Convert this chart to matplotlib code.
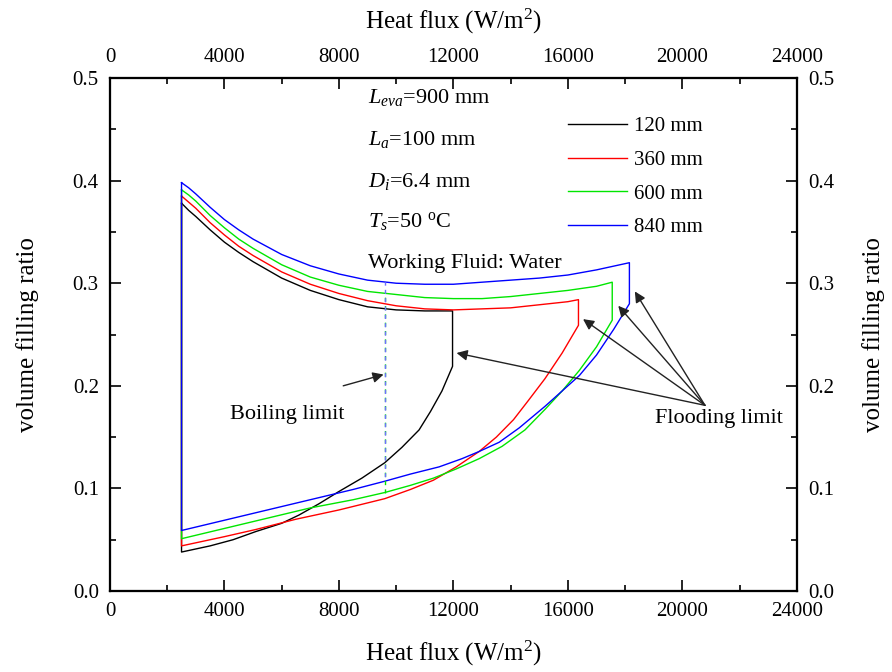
import numpy as np
import matplotlib
matplotlib.use("Agg")
import matplotlib.pyplot as plt
from matplotlib.ticker import MultipleLocator, FormatStrFormatter

plt.rcParams['font.family'] = ['Liberation Serif', 'DejaVu Serif']
plt.rcParams['mathtext.fontset'] = 'custom'
plt.rcParams['mathtext.rm'] = 'Liberation Serif'
plt.rcParams['mathtext.it'] = 'Liberation Serif:italic'

# upper branch of each loop (heat flux, filling ratio)
black_up_x = [2500, 2750, 3000, 3500, 4000, 4500, 5000, 6000, 7000, 8000, 9000, 10000,
              11000, 11970]
black_up_y = [0.378, 0.371, 0.365, 0.352, 0.340, 0.330, 0.321, 0.305, 0.293, 0.284, 0.277,
              0.274, 0.273, 0.273]
red_up_x = [2500, 2750, 3000, 3500, 4000, 4500, 5000, 6000, 7000, 8000, 9000, 10000,
            11000, 12000, 13000, 14000, 15000, 16000, 16370]
red_up_y = [0.385, 0.379, 0.373, 0.359, 0.347, 0.336, 0.327, 0.311, 0.299, 0.290, 0.283,
            0.278, 0.275, 0.274, 0.275, 0.276, 0.279, 0.282, 0.284]
green_up_x = [2500, 2750, 3000, 3500, 4000, 4500, 5000, 6000, 7000, 8000, 9000, 10000,
              11000, 12000, 13000, 14000, 15000, 16000, 17000, 17550]
green_up_y = [0.391, 0.386, 0.380, 0.366, 0.354, 0.343, 0.334, 0.318, 0.306, 0.298, 0.292,
              0.289, 0.286, 0.285, 0.285, 0.287, 0.290, 0.293, 0.297, 0.301]
blue_up_x = [2500, 2750, 3000, 3500, 4000, 4500, 5000, 6000, 7000, 8000, 9000, 10000,
             11000, 12000, 13000, 14000, 15000, 16000, 17000, 18150]
blue_up_y = [0.398, 0.393, 0.387, 0.374, 0.362, 0.352, 0.343, 0.328, 0.317, 0.309, 0.303,
             0.300, 0.299, 0.299, 0.301, 0.303, 0.305, 0.308, 0.313, 0.320]

# lower branch of each loop
black_low_x = [2500, 3500, 4300, 5100, 6000, 6600, 7300, 8000, 8800, 9600, 10200,
               10800, 11200, 11600, 11970]
black_low_y = [0.038, 0.044, 0.050, 0.058, 0.066, 0.074, 0.085, 0.097, 0.110, 0.125, 0.140,
               0.157, 0.175, 0.195, 0.219]
red_low_x = [2500, 4000, 5100, 6500, 8000, 9600, 10500, 11300, 12100, 12900, 13500,
             14100, 14600, 15200, 15800, 16370]
red_low_y = [0.044, 0.053, 0.060, 0.070, 0.079, 0.090, 0.099, 0.108, 0.121, 0.136, 0.150,
             0.167, 0.185, 0.207, 0.232, 0.259]
green_low_x = [2500, 4000, 5500, 7000, 8500, 9600, 10500, 11300, 12100, 12900, 13700,
               14500, 15200, 15800, 16400, 17000, 17550]
green_low_y = [0.051, 0.061, 0.071, 0.081, 0.089, 0.096, 0.103, 0.110, 0.119, 0.129, 0.141,
               0.157, 0.177, 0.195, 0.215, 0.238, 0.264]
blue_low_x = [2500, 4000, 5500, 7000, 8500, 9600, 10500, 11500, 12300, 12900, 13600,
              14300, 15200, 15800, 16400, 17000, 17600, 18150]
blue_low_y = [0.059, 0.069, 0.079, 0.089, 0.099, 0.107, 0.114, 0.121, 0.129, 0.136, 0.145,
              0.159, 0.180, 0.195, 0.210, 0.230, 0.255, 0.280]

labels = ['120 mm', '360 mm', '600 mm', '840 mm']
colors = ['#000000', '#ff0000', '#00e600', '#0000ff']

boil_x = 9600
boil_green = [0.096, 0.290]
boil_blue = [0.107, 0.301]

fig = plt.figure(figsize=(8.92, 6.72), dpi=100)
ax = fig.add_axes([0.1233, 0.1205, 0.77, 0.7634])

curves = [(black_up_x, black_up_y, black_low_x, black_low_y),
          (red_up_x, red_up_y, red_low_x, red_low_y),
          (green_up_x, green_up_y, green_low_x, green_low_y),
          (blue_up_x, blue_up_y, blue_low_x, blue_low_y)]

for (ux, uy, lx, ly), c, lab in zip(curves, colors, labels):
    px = np.r_[ux, lx[::-1], ux[:1]]
    py = np.r_[uy, ly[::-1], uy[:1]]
    ax.plot(px, py, color=c, lw=1.0, label=lab)

ax.plot([boil_x, boil_x], boil_green, color='#00e600', lw=1.0, ls=(0, (3, 3)))
ax.plot([boil_x, boil_x], boil_blue, color='#6f6fff', lw=1.0, ls=(3, (3, 3)))

ax_top = ax.twiny()
ax_right = ax.twinx()
ax.set_xlim(0, 24000)
ax.set_ylim(0, 0.5)
ax_top.set_xlim(0, 24000)
ax_right.set_ylim(0, 0.5)
for a in (ax, ax_top, ax_right):
    a.xaxis.set_major_locator(MultipleLocator(4000))
    a.xaxis.set_minor_locator(MultipleLocator(2000))
    a.yaxis.set_major_locator(MultipleLocator(0.1))
    a.yaxis.set_minor_locator(MultipleLocator(0.05))
    a.yaxis.set_major_formatter(FormatStrFormatter('%.1f'))
    a.tick_params(which='both', direction='in', labelsize=15, width=1.2, pad=8)
    a.tick_params(which='major', length=8)
    a.tick_params(which='minor', length=4)
    for s in a.spines.values():
        s.set_linewidth(1.5)

ax.set_xlabel('Heat flux (W/m$^2$)', fontsize=18, labelpad=13)
ax.set_ylabel('volume filling ratio', fontsize=18, labelpad=24)
ax_top.set_xlabel('Heat flux (W/m$^2$)', fontsize=18, labelpad=14)
ax_right.set_ylabel('volume filling ratio', fontsize=18, labelpad=20)

tx = 9000
ax.text(tx, 0.481, '$L_{eva}$=900 mm', fontsize=16, va='center')
ax.text(tx, 0.4405, '$L_a$=100 mm', fontsize=16, va='center')
ax.text(tx, 0.3996, '$D_i$=6.4 mm', fontsize=16, va='center')
ax.text(tx, 0.360, '$T_s$=50 $^{\\mathrm{o}}$C', fontsize=16, va='center')
ax.text(tx, 0.3197, 'Working Fluid: Water', fontsize=16, va='center')

ax.legend(loc='upper left', bbox_to_anchor=(0.667, 0.925), frameon=False,
          fontsize=15, handlelength=2.85, handletextpad=0.3, labelspacing=0.68,
          borderaxespad=0, borderpad=0)

arrow = dict(arrowstyle='-|>', color='#222222', lw=1.0, mutation_scale=16,
             shrinkA=0, shrinkB=0)
ax.text(4190, 0.172, 'Boiling limit', fontsize=16, va='center')
ax.annotate('', xy=(9560, 0.211), xytext=(8150, 0.200), arrowprops=arrow)

ax.text(19040, 0.1686, 'Flooding limit', fontsize=16, va='center')
flood_tail = (20790, 0.181)
flood_heads = [(12110, 0.232), (16530, 0.265), (17760, 0.278), (18340, 0.292)]
for h in flood_heads:
    ax.annotate('', xy=h, xytext=flood_tail, arrowprops=arrow)

fig.savefig('out.png', dpi=100)
